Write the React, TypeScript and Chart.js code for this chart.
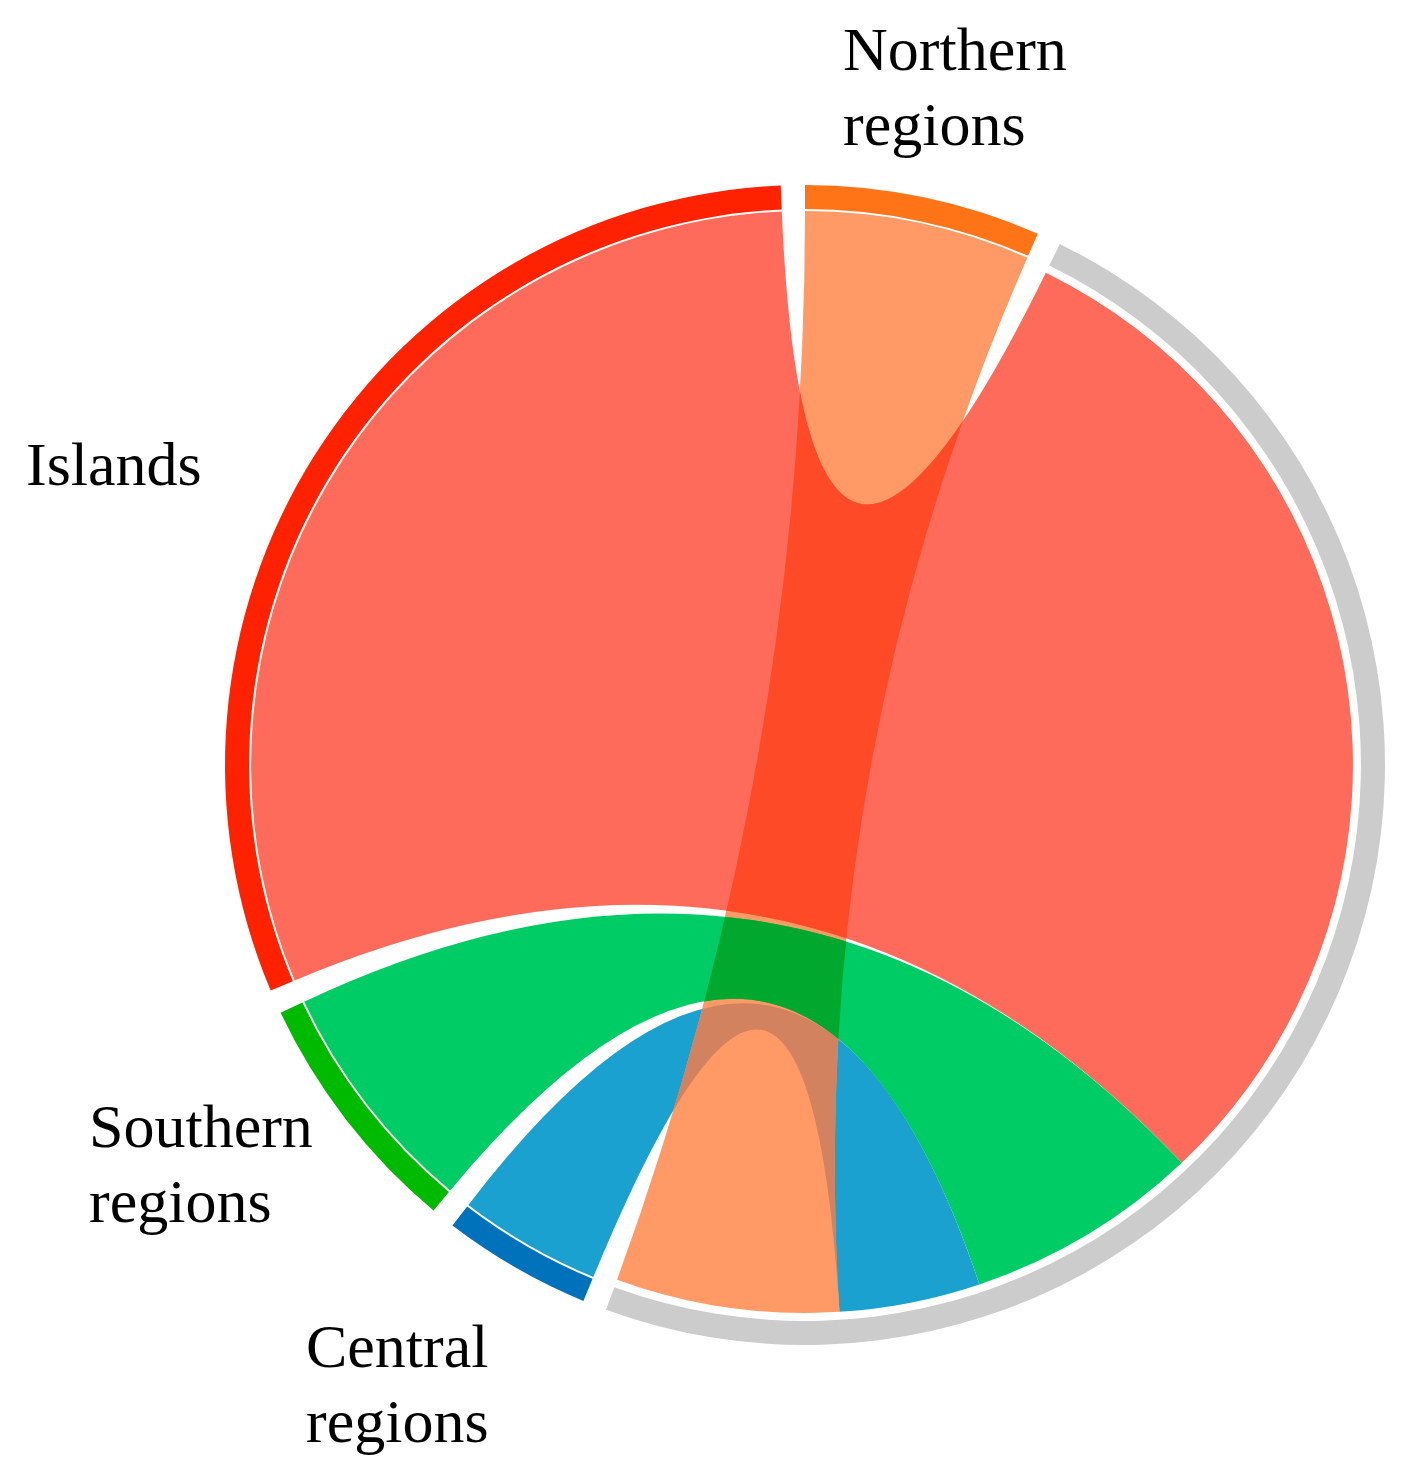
import React, { useEffect, useRef } from 'react';
import { Chart, registerables } from 'chart.js';

Chart.register(...registerables);

const W = 1418;
const H = 1484;

// ---- data ----
const regionNames = ['Northern regions', 'Central regions', 'Southern regions', 'Islands'];
const flowValues = [13.6, 8.6, 14.3, 63.5]; // share flowing into the unlabeled (grey) group
const ringColors = ['#FF7417', '#0072BB', '#00BA00', '#FF2200'];
const ribbonColors = ['#FF9966', '#1BA1CF', '#00CC66', '#FF6B5B'];
const overlapWithNorthern = ['', '#D2825F', '#00A92E', '#FF4A28'];
const targetName = 'target';
const targetColor = '#CCCCCC';
const padValue = 1.38;
// ring order clockwise from 12 o'clock
const ringOrder = ['Northern regions', 'target', 'Central regions', 'Southern regions', 'Islands'];
// order of the ribbons inside the grey group, clockwise
const targetSubOrder = ['Islands', 'Southern regions', 'Central regions', 'Northern regions'];
const labelLines: Record<string, string[]> = {
  'Northern regions': ['Northern', 'regions'],
  'Islands': ['Islands'],
  'Southern regions': ['Southern', 'regions'],
  'Central regions': ['Central', 'regions'],
};

// ---- layout (not data) ----
const labelLayout: Record<string, { x: number; y: number }> = {
  'Northern regions': { x: 843, y: 70 },
  'Islands': { x: 26, y: 485 },
  'Southern regions': { x: 89, y: 1147 },
  'Central regions': { x: 306, y: 1367 },
};
const LINE_H = 75;

const totalFlow = flowValues.reduce((a, b) => a + b, 0);

function valueOf(name: string) {
  if (name === targetName) return totalFlow;
  return flowValues[regionNames.indexOf(name)];
}
function colorOf(name: string) {
  if (name === targetName) return targetColor;
  return ringColors[regionNames.indexOf(name)];
}

const ringData: number[] = [];
const ringBg: string[] = [];
const ringLabels: string[] = [];
ringOrder.forEach((name) => {
  ringData.push(valueOf(name));
  ringBg.push(colorOf(name));
  ringLabels.push(name);
  ringData.push(padValue);
  ringBg.push('rgba(0,0,0,0)');
  ringLabels.push('');
});

function slotOf(name: string) {
  return ringOrder.indexOf(name) * 2;
}

function ribbonPath(
  ctx: CanvasRenderingContext2D,
  cx: number, cy: number,
  rs: number, s0: number, s1: number,
  rt: number, t0: number, t1: number
) {
  ctx.beginPath();
  ctx.arc(cx, cy, rs, s0, s1, false);
  ctx.quadraticCurveTo(cx, cy, cx + rt * Math.cos(t0), cy + rt * Math.sin(t0));
  ctx.arc(cx, cy, rt, t0, t1, false);
  ctx.quadraticCurveTo(cx, cy, cx + rs * Math.cos(s0), cy + rs * Math.sin(s0));
  ctx.closePath();
}

const chordPlugin = {
  id: 'chordRibbons',
  beforeDatasetsDraw(chart: any) {
    const ctx: CanvasRenderingContext2D = chart.ctx;
    const arcs = chart.getDatasetMeta(0).data as any[];
    const tArc = arcs[slotOf(targetName)];
    const cx = tArc.x;
    const cy = tArc.y;
    const inner = tArc.innerRadius;
    const rs = inner - 2;
    const rt = inner - 8;
    const tSpan = tArc.endAngle - tArc.startAngle;
    const tAngles: Record<string, [number, number]> = {};
    let a = tArc.startAngle;
    targetSubOrder.forEach((name) => {
      const span = (valueOf(name) / totalFlow) * tSpan;
      tAngles[name] = [a, a + span];
      a += span;
    });
    const path = (name: string) => {
      const arc = arcs[slotOf(name)];
      ribbonPath(ctx, cx, cy, rs, arc.startAngle, arc.endAngle, rt, tAngles[name][0], tAngles[name][1]);
    };
    const fillRibbon = (name: string) => {
      path(name);
      ctx.fillStyle = ribbonColors[regionNames.indexOf(name)];
      ctx.fill();
    };
    const fillOverlap = (name: string) => {
      ctx.save();
      path(name);
      ctx.clip();
      path('Northern regions');
      ctx.fillStyle = overlapWithNorthern[regionNames.indexOf(name)];
      ctx.fill();
      ctx.restore();
    };
    ctx.save();
    fillRibbon('Central regions');
    fillRibbon('Northern regions');
    fillOverlap('Central regions');
    fillRibbon('Southern regions');
    fillOverlap('Southern regions');
    fillRibbon('Islands');
    fillOverlap('Islands');
    ctx.restore();
  },
  afterDraw(chart: any) {
    const ctx: CanvasRenderingContext2D = chart.ctx;
    ctx.save();
    ctx.fillStyle = '#000000';
    ctx.font = '62px "Liberation Serif", "Times New Roman", serif';
    ctx.textAlign = 'left';
    ctx.textBaseline = 'alphabetic';
    Object.keys(labelLines).forEach((name) => {
      const pos = labelLayout[name];
      labelLines[name].forEach((line, i) => {
        ctx.fillText(line, pos.x, pos.y + i * LINE_H);
      });
    });
    ctx.restore();
  },
};

export default function App() {
  const ref = useRef<HTMLCanvasElement | null>(null);
  useEffect(() => {
    if (!ref.current) return;
    const chart = new Chart(ref.current, {
      type: 'doughnut',
      data: {
        labels: ringLabels,
        datasets: [
          {
            data: ringData,
            backgroundColor: ringBg,
            borderWidth: 0,
            hoverOffset: 0,
            offset: 0,
          },
        ],
      },
      options: {
        responsive: false,
        animation: false,
        devicePixelRatio: 1,
        events: [],
        cutout: '95.85%',
        rotation: 0,
        layout: { padding: { left: 225, right: 33, top: 185, bottom: 139 } },
        plugins: {
          legend: { display: false },
          tooltip: { enabled: false },
          title: { display: false },
        },
      },
      plugins: [chordPlugin],
    } as any);
    return () => chart.destroy();
  }, []);
  return (
    <div style={{ position: 'absolute', left: 0, top: 0, width: W, height: H, background: '#ffffff' }}>
      <canvas ref={ref} width={W} height={H} style={{ display: 'block', width: W, height: H }} />
    </div>
  );
}
